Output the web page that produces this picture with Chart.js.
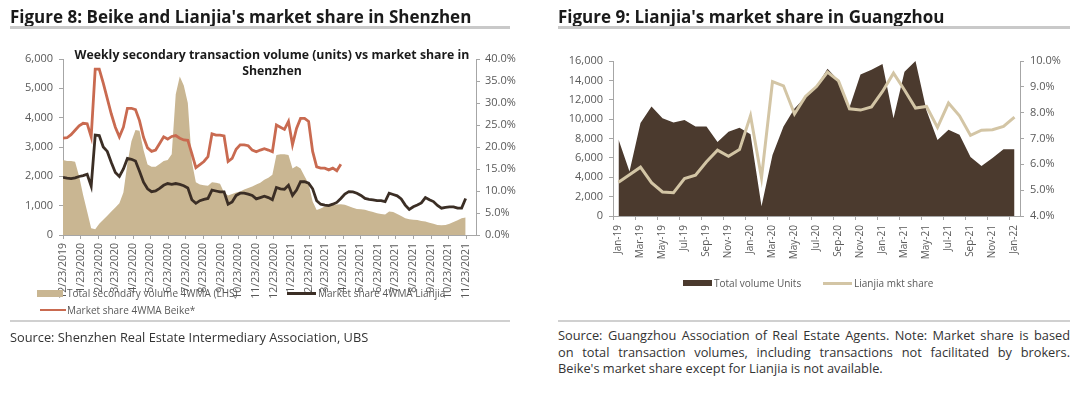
<!DOCTYPE html>
<html><head><meta charset="utf-8">
<script src="https://cdn.jsdelivr.net/npm/chart.js@4.4.1/dist/chart.umd.min.js"></script>
<style>
body{margin:0;background:#fff;width:1080px;height:397px;overflow:hidden;position:relative;font-family:"Open Sans",sans-serif;}
.abs{position:absolute;}
.title{font-weight:700;font-size:17px;color:#1a1a1a;white-space:nowrap;line-height:20px;letter-spacing:0;}
.bar{height:3px;background:#c9c9c9;}
.lg{font-size:10px;color:#595959;white-space:nowrap;line-height:12px;}
.src{font-size:12.8px;color:#333;line-height:16px;white-space:nowrap;}
.jl{text-align:justify;text-align-last:justify;white-space:normal;}
canvas{position:absolute;top:0;}
</style></head><body>
<canvas id="c1" width="540" height="320" style="left:0"></canvas>
<canvas id="c2" width="540" height="320" style="left:540px"></canvas>

<div class="abs title" style="left:10px;top:7px;">Figure 8: Beike and Lianjia's market share in Shenzhen</div>
<div class="abs bar" style="left:10px;top:26px;width:500px;"></div>
<div class="abs title" style="left:558px;top:7px;">Figure 9: Lianjia's market share in Guangzhou</div>
<div class="abs bar" style="left:558px;top:26px;width:512px;"></div>

<div class="abs" style="left:52px;top:47px;width:440px;text-align:center;font-weight:700;font-size:12.3px;line-height:16px;color:#1a1a1a;">Weekly secondary transaction volume (units) vs market share in<br>Shenzhen</div>

<div class="abs" style="left:37px;top:290px;width:26px;height:7px;background:#c9b692;"></div>
<div class="abs lg" style="left:67px;top:287px;">Total secondary volume 4WMA (LHS)</div>
<div class="abs" style="left:287px;top:292px;width:29px;height:3px;background:#3b2e25;"></div>
<div class="abs lg" style="left:318px;top:287px;">Market share 4WMA Lianjia</div>
<div class="abs" style="left:40px;top:309px;width:26px;height:2px;background:#c96a50;"></div>
<div class="abs lg" style="left:67px;top:304px;">Market share 4WMA Beike*</div>

<div class="abs" style="left:683px;top:280px;width:29px;height:6px;background:#4b3a2e;"></div>
<div class="abs lg" style="left:714px;top:277px;">Total volume Units</div>
<div class="abs" style="left:823px;top:282px;width:29px;height:3px;background:#d3c5a5;"></div>
<div class="abs lg" style="left:854px;top:277px;">Lianjia mkt share</div>

<div class="abs bar" style="left:10px;top:320px;width:500px;height:2px;background:#d0d0d0;"></div>
<div class="abs bar" style="left:558px;top:320px;width:512px;height:2px;background:#d0d0d0;"></div>
<div class="abs src" style="left:10px;top:329px;">Source: Shenzhen Real Estate Intermediary Association, UBS</div>
<div class="abs src jl" style="left:558px;top:327px;width:512px;">Source: Guangzhou Association of Real Estate Agents. Note: Market share is based</div>
<div class="abs src jl" style="left:558px;top:344px;width:512px;">on total transaction volumes, including transactions not facilitated by brokers.</div>
<div class="abs src" style="left:558px;top:360px;">Beike's market share except for Lianjia is not available.</div>

<script>
// ---- Figure 8 (Shenzhen, weekly) ----
const shenzhenStartDay = 0;          // 12/23/2019
const weekStepDays = 7;
const shenzhenTickDays = [0,31,62,91,122,152,183,213,244,275,305,336,366,397,428,456,487,517,548,578,609,640,670,701];
const shenzhenTickLabels = ['12/23/2019','1/23/2020','2/23/2020','3/23/2020','4/23/2020','5/23/2020','6/23/2020','7/23/2020','8/23/2020','9/23/2020','10/23/2020','11/23/2020','12/23/2020','1/23/2021','2/23/2021','3/23/2021','4/23/2021','5/23/2021','6/23/2021','7/23/2021','8/23/2021','9/23/2021','10/23/2021','11/23/2021'];
const shenzhenVolume = [2560,2520,2520,2500,2000,1360,800,230,200,380,520,660,800,940,1080,1450,2450,3200,3580,3550,2900,2400,2330,2330,2420,2520,2560,2750,4800,5400,5100,4500,2500,1800,1720,1700,1680,1800,1780,1750,1450,1350,1400,1450,1480,1550,1600,1650,1720,1780,1880,1950,2050,2730,2750,2750,2730,2270,2350,2270,2000,1750,1140,850,900,970,1020,1040,1040,1050,1030,980,930,890,880,860,820,780,740,720,700,800,780,720,650,570,540,520,510,480,460,420,380,340,330,340,380,440,500,570,600];
const lianjiaShareSZ = [13.1,12.9,12.8,13.0,13.3,13.5,13.8,11.1,22.7,22.6,20.0,19.0,16.5,14.2,13.3,15.0,17.4,17.2,16.8,14.5,12.0,10.5,9.85,10.0,10.6,11.3,11.7,11.5,11.7,11.5,11.2,10.7,8.0,7.2,7.8,8.1,8.3,10.2,10.0,9.8,9.8,7.0,7.5,9.0,9.5,9.5,9.3,9.0,8.2,8.5,8.8,8.5,8.0,10.8,10.5,10.4,11.3,9.0,10.2,12.1,12.1,11.8,10.5,7.8,7.0,6.8,6.7,7.0,7.4,8.3,9.3,9.85,9.8,9.5,9.0,8.3,8.1,8.0,7.8,7.8,7.6,9.5,9.2,8.9,8.2,6.8,5.8,6.4,6.8,7.3,8.5,8.0,7.6,6.7,6.1,6.3,6.4,6.4,6.1,6.1,8.3];
const beikeShareSZ = [22.0,22.1,22.8,23.8,24.8,25.4,25.3,22.3,37.7,37.7,34.5,31.0,27.5,24.5,22.3,24.5,28.8,28.8,28.5,26.0,22.2,19.8,19.0,19.3,20.8,22.3,21.8,22.4,22.6,22.0,21.6,21.5,18.5,15.3,16.0,16.7,17.8,23.0,22.7,22.7,22.5,16.7,17.4,19.5,20.5,20.5,20.3,19.3,18.9,19.3,19.6,19.3,18.9,25.0,24.5,24.0,25.8,20.5,24.2,26.5,26.5,25.8,19.0,15.5,15.2,15.2,14.8,15.2,14.6,16.1];

// ---- Figure 9 (Guangzhou, monthly) ----
const gzMonths = ['Jan-19','Feb-19','Mar-19','Apr-19','May-19','Jun-19','Jul-19','Aug-19','Sep-19','Oct-19','Nov-19','Dec-19','Jan-20','Feb-20','Mar-20','Apr-20','May-20','Jun-20','Jul-20','Aug-20','Sep-20','Oct-20','Nov-20','Dec-20','Jan-21','Feb-21','Mar-21','Apr-21','May-21','Jun-21','Jul-21','Aug-21','Sep-21','Oct-21','Nov-21','Dec-21','Jan-22'];
const gzVolume = [7900,4600,9600,11300,10100,9650,9900,9250,9250,7650,8700,9100,8450,1000,6300,9250,11100,12300,13400,15200,14000,11200,14600,15100,15700,10100,14900,16000,10900,7850,8900,8400,6100,5150,6000,6900,6900];
const gzShare = [5.31,5.6,5.89,5.29,4.93,4.9,5.45,5.58,6.1,6.55,6.31,6.57,7.88,5.48,9.2,9.04,7.95,8.63,9.01,9.57,9.23,8.15,8.1,8.22,8.82,9.53,8.88,8.18,8.24,7.43,8.37,7.88,7.12,7.32,7.34,7.47,7.83];

const FONT = '"Open Sans", sans-serif';
const TICK = '#595959';
const AX = '#a6a6a6';
const toXY = arr => arr.map((v, i) => ({x: shenzhenStartDay + i * weekStepDays, y: v}));

new Chart(document.getElementById('c1'), {
  type: 'line',
  data: { datasets: [
    {label: 'Market share 4WMA Lianjia', data: toXY(lianjiaShareSZ), yAxisID: 'y1', borderColor: '#3b2e25', borderWidth: 2.8, pointRadius: 0, fill: false, tension: 0, order: 1},
    {label: 'Market share 4WMA Beike*', data: toXY(beikeShareSZ), yAxisID: 'y1', borderColor: '#c96a50', borderWidth: 2.8, pointRadius: 0, fill: false, tension: 0, order: 2},
    {label: 'Total secondary volume 4WMA (LHS)', data: toXY(shenzhenVolume), yAxisID: 'y', backgroundColor: '#c9b692', borderWidth: 0, pointRadius: 0, fill: 'origin', tension: 0, order: 3}
  ]},
  options: {
    responsive: false, animation: false, devicePixelRatio: 1,
    layout: {padding: {top: 59, left: 0, right: 0, bottom: 0}},
    plugins: {legend: {display: false}, tooltip: {enabled: false}},
    scales: {
      x: {type: 'linear', min: 0, max: 718,
        afterBuildTicks: s => { s.ticks = shenzhenTickDays.map(v => ({value: v})); },
        afterFit: s => { s.height = 85; },
        ticks: {autoSkip: false, minRotation: 90, maxRotation: 90, padding: 4, color: TICK, font: {family: FONT, size: 10.5},
          callback: (v, i) => shenzhenTickLabels[i]},
        grid: {drawOnChartArea: false, tickLength: 4, color: AX}, border: {color: AX}},
      y: {position: 'left', min: 0, max: 6000,
        afterFit: s => { s.width = 63; },
        ticks: {stepSize: 1000, padding: 6, color: TICK, font: {family: FONT, size: 11}, callback: v => v.toLocaleString('en-US')},
        grid: {drawOnChartArea: false, tickLength: 4, color: AX}, border: {color: AX}},
      y1: {position: 'right', min: 0, max: 40,
        afterFit: s => { s.width = 64; },
        ticks: {stepSize: 5, padding: 5, color: TICK, font: {family: FONT, size: 11}, callback: v => v.toFixed(1) + '%'},
        grid: {drawOnChartArea: false, tickLength: 4, color: AX}, border: {color: AX}}
    }
  }
});

new Chart(document.getElementById('c2'), {
  type: 'line',
  data: { labels: gzMonths, datasets: [
    {label: 'Lianjia mkt share', data: gzShare, yAxisID: 'y1', borderColor: '#d3c5a5', borderWidth: 3, pointRadius: 0, fill: false, tension: 0, order: 1},
    {label: 'Total volume Units', data: gzVolume, yAxisID: 'y', backgroundColor: '#4b3a2e', borderWidth: 0, pointRadius: 0, fill: 'origin', tension: 0, order: 2}
  ]},
  options: {
    responsive: false, animation: false, devicePixelRatio: 1,
    layout: {padding: {top: 61, left: 0, right: 0, bottom: 0}},
    plugins: {legend: {display: false}, tooltip: {enabled: false}},
    scales: {
      x: {type: 'category', offset: true,
        afterFit: s => { s.height = 104; },
        ticks: {autoSkip: false, minRotation: 90, maxRotation: 90, padding: 5, color: TICK, font: {family: FONT, size: 10},
          callback: (v, i) => (i % 2 === 0 ? gzMonths[i] : '')},
        grid: {offset: true, drawOnChartArea: false, tickLength: 4, color: AX,
          tickColor: c => (c.index % 2 === 0 && c.index < gzMonths.length ? AX : 'rgba(0,0,0,0)')},
        border: {color: AX}},
      y: {position: 'left', min: 0, max: 16000,
        afterFit: s => { s.width = 73; },
        ticks: {stepSize: 2000, padding: 6, color: TICK, font: {family: FONT, size: 11}, callback: v => v.toLocaleString('en-US')},
        grid: {drawOnChartArea: false, tickLength: 4, color: AX}, border: {color: AX}},
      y1: {position: 'right', min: 4, max: 10,
        afterFit: s => { s.width = 60; },
        ticks: {stepSize: 1, padding: 6, color: TICK, font: {family: FONT, size: 11}, callback: v => v.toFixed(1) + '%'},
        grid: {drawOnChartArea: false, tickLength: 4, color: AX}, border: {color: AX}}
    }
  }
});
</script>
</body></html>
